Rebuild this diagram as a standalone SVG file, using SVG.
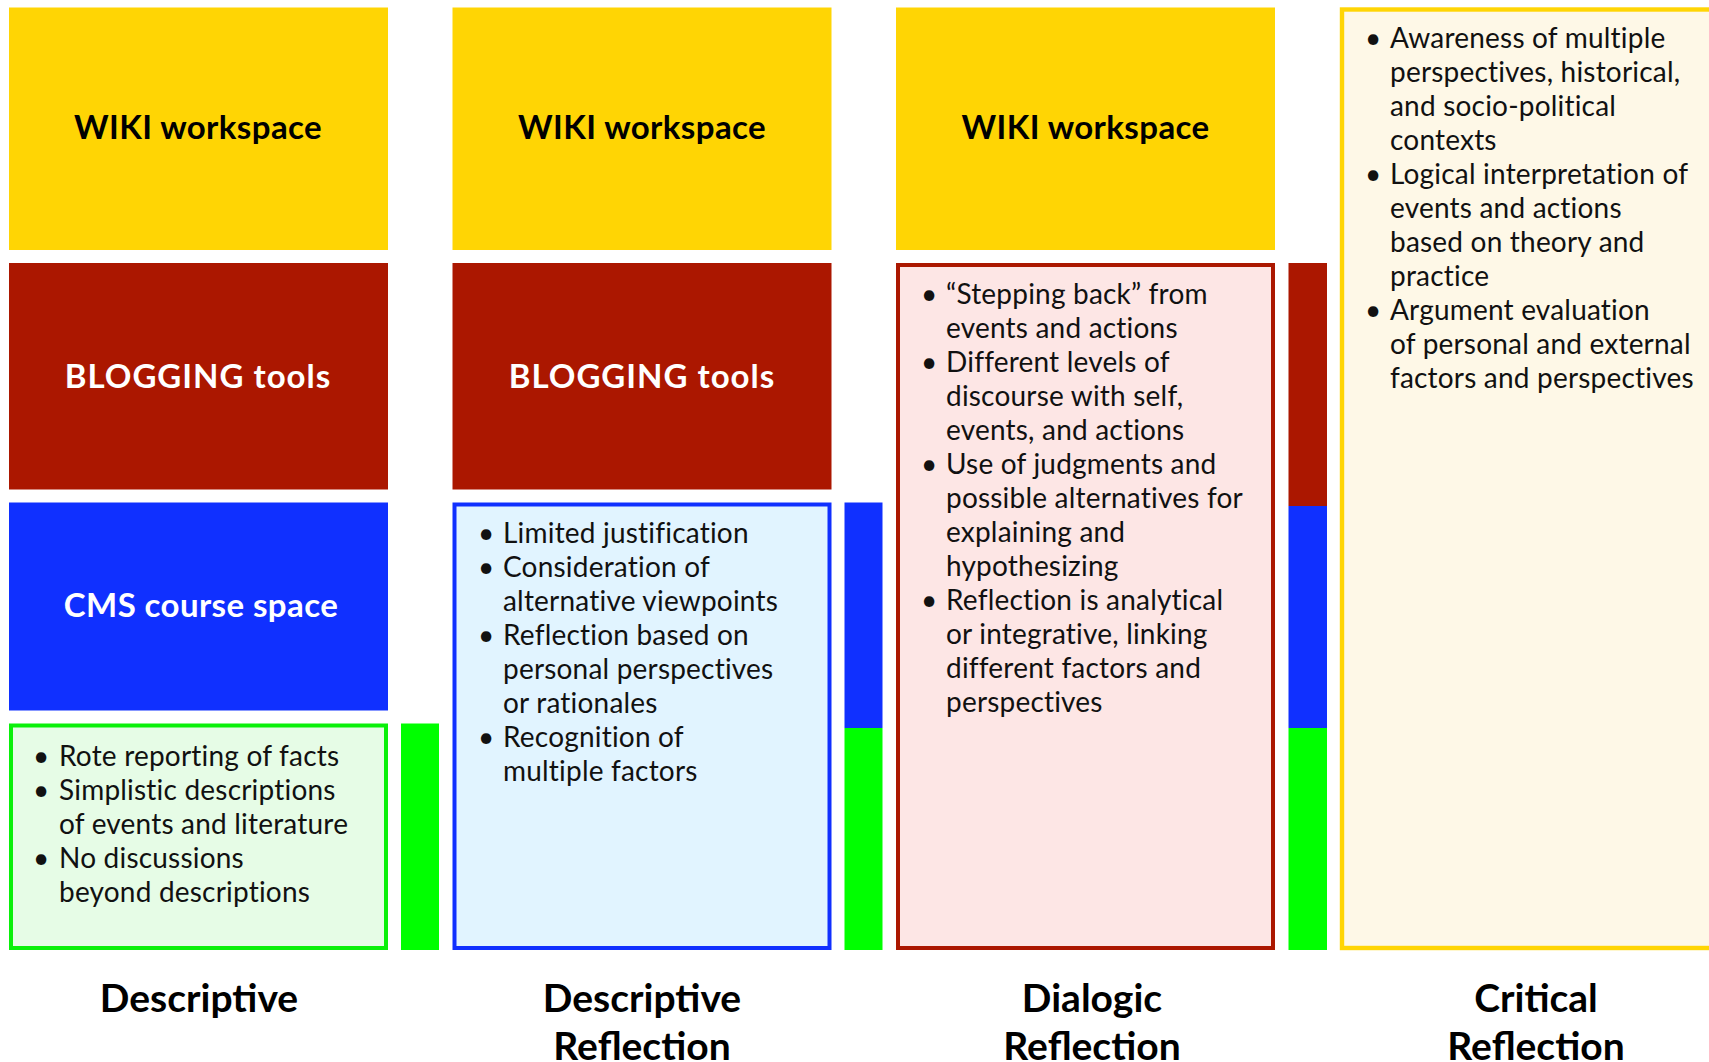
<svg xmlns="http://www.w3.org/2000/svg" width="1709" height="1062" viewBox="0 0 1709 1062">
<style>
.wiki{fill:#FFD504}
.blog{fill:#AB1700}
.cms{fill:#1030FF}
.grn{fill:#00FF00}
.h{font-family:Lato,"Open Sans",sans-serif;font-weight:bold;font-size:33px;text-anchor:middle;letter-spacing:0.4px}
.hk{fill:#000}
.hw{fill:#fff}
.wide{letter-spacing:1px}
.b{font-family:Lato,"Open Sans",sans-serif;font-size:28px;fill:#111;letter-spacing:0.2px}
.lab{font-family:Lato,"Open Sans",sans-serif;font-weight:bold;font-size:39px;fill:#000;text-anchor:middle}
</style>
<rect width="1709" height="1062" fill="#fff"/>

<g id="col1-wiki"><rect class="wiki" x="9" y="7.5" width="379" height="242.5"/><text class="h hk" x="198" y="139">WIKI workspace</text></g>
<g id="col1-blog"><rect class="blog" x="9" y="263" width="379" height="226.5"/><text class="h hw wide" x="198" y="388">BLOGGING tools</text></g>
<g id="col1-cms"><rect class="cms" x="9" y="502.5" width="379" height="208"/><text class="h hw" x="201" y="617">CMS course space</text></g>
<g id="col1-desc">
<rect x="11" y="725.5" width="375" height="222.5" fill="#E6FCE6" stroke="#0AF00A" stroke-width="4"/>
<text class="b"><tspan x="33" y="766">•</tspan><tspan x="59" y="766">Rote reporting of facts</tspan><tspan x="33" y="800">•</tspan><tspan x="59" y="800">Simplistic descriptions</tspan><tspan x="59" y="834">of events and literature</tspan><tspan x="33" y="868">•</tspan><tspan x="59" y="868">No discussions</tspan><tspan x="59" y="902">beyond descriptions</tspan></text>
</g>
<g id="col1-bar"><rect class="grn" x="401" y="723.5" width="38" height="226.5"/></g>
<g id="label-descriptive"><text class="lab" x="199" y="1012">Descriptive</text></g>

<g id="col2-wiki"><rect class="wiki" x="452.5" y="7.5" width="379" height="242.5"/><text class="h hk" x="642" y="139">WIKI workspace</text></g>
<g id="col2-blog"><rect class="blog" x="452.5" y="263" width="379" height="226.5"/><text class="h hw wide" x="642" y="388">BLOGGING tools</text></g>
<g id="col2-desc">
<rect x="454.5" y="504.5" width="375" height="443.5" fill="#E1F4FF" stroke="#1030FF" stroke-width="4"/>
<text class="b"><tspan x="478" y="543">•</tspan><tspan x="503" y="543">Limited justification</tspan><tspan x="478" y="577">•</tspan><tspan x="503" y="577">Consideration of</tspan><tspan x="503" y="611">alternative viewpoints</tspan><tspan x="478" y="645">•</tspan><tspan x="503" y="645">Reflection based on</tspan><tspan x="503" y="679">personal perspectives</tspan><tspan x="503" y="713">or rationales</tspan><tspan x="478" y="747">•</tspan><tspan x="503" y="747">Recognition of</tspan><tspan x="503" y="781">multiple factors</tspan></text>
</g>
<g id="col2-bar"><rect class="cms" x="844.5" y="502.5" width="38" height="225.5"/><rect class="grn" x="844.5" y="728" width="38" height="222"/></g>
<g id="label-descriptive-reflection"><text class="lab" x="642" y="1012">Descriptive</text><text class="lab" x="642" y="1060">Reflection</text></g>

<g id="col3-wiki"><rect class="wiki" x="896" y="7.5" width="379" height="242.5"/><text class="h hk" x="1085.5" y="139">WIKI workspace</text></g>
<g id="col3-dialogic">
<rect x="898" y="265" width="375" height="683" fill="#FDE6E5" stroke="#AB1700" stroke-width="4"/>
<text class="b"><tspan x="921" y="304">•</tspan><tspan x="946" y="304">“Stepping back” from</tspan><tspan x="946" y="338">events and actions</tspan><tspan x="921" y="372">•</tspan><tspan x="946" y="372">Different levels of</tspan><tspan x="946" y="406">discourse with self,</tspan><tspan x="946" y="440">events, and actions</tspan><tspan x="921" y="474">•</tspan><tspan x="946" y="474">Use of judgments and</tspan><tspan x="946" y="508">possible alternatives for</tspan><tspan x="946" y="542">explaining and</tspan><tspan x="946" y="576">hypothesizing</tspan><tspan x="921" y="610">•</tspan><tspan x="946" y="610">Reflection is analytical</tspan><tspan x="946" y="644">or integrative, linking</tspan><tspan x="946" y="678">different factors and</tspan><tspan x="946" y="712">perspectives</tspan></text>
</g>
<g id="col3-bar"><rect class="blog" x="1288.5" y="263" width="38.5" height="243"/><rect class="cms" x="1288.5" y="506" width="38.5" height="222"/><rect class="grn" x="1288.5" y="728" width="38.5" height="222"/></g>
<g id="label-dialogic-reflection"><text class="lab" x="1092" y="1012">Dialogic</text><text class="lab" x="1092" y="1060">Reflection</text></g>

<g id="col4-critical">
<rect x="1342" y="9.5" width="380" height="938.5" fill="#FEF8E7" stroke="#FFD504" stroke-width="4.4"/>
<text class="b"><tspan x="1365" y="48">•</tspan><tspan x="1390" y="48">Awareness of multiple</tspan><tspan x="1390" y="82">perspectives, historical,</tspan><tspan x="1390" y="116">and socio-political</tspan><tspan x="1390" y="150">contexts</tspan><tspan x="1365" y="184">•</tspan><tspan x="1390" y="184">Logical interpretation of</tspan><tspan x="1390" y="218">events and actions</tspan><tspan x="1390" y="252">based on theory and</tspan><tspan x="1390" y="286">practice</tspan><tspan x="1365" y="320">•</tspan><tspan x="1390" y="320">Argument evaluation</tspan><tspan x="1390" y="354">of personal and external</tspan><tspan x="1390" y="388">factors and perspectives</tspan></text>
</g>
<g id="label-critical-reflection"><text class="lab" x="1536" y="1012">Critical</text><text class="lab" x="1536" y="1060">Reflection</text></g>
</svg>
